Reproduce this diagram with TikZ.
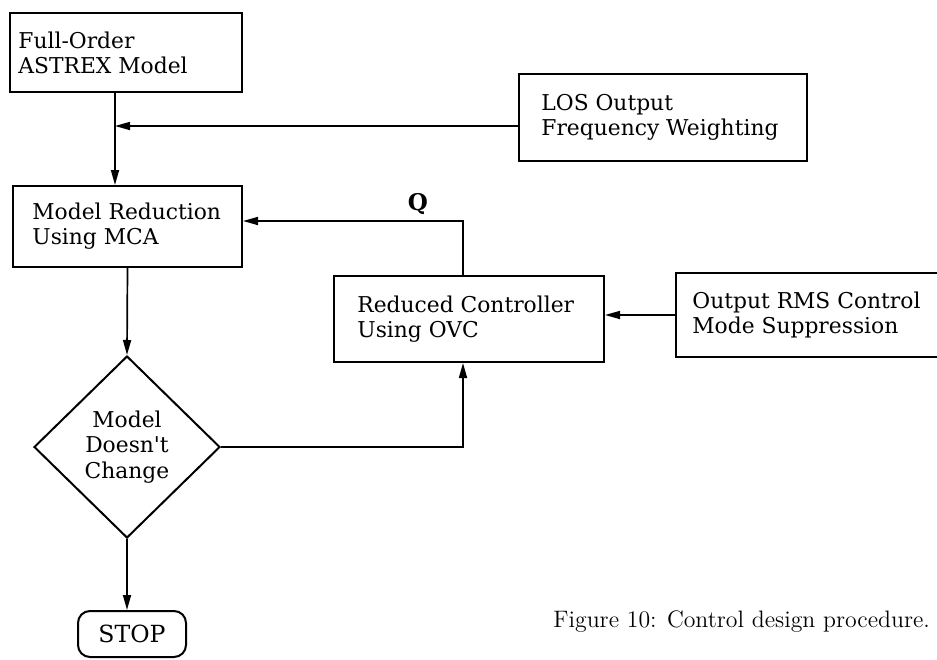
\documentclass[tikz,border=0pt]{standalone}
\usepackage{fontspec}
\newfontfamily\dvs{DejaVu Serif}
\usetikzlibrary{arrows.meta,shapes.geometric}
\begin{document}
\begin{tikzpicture}[x=0.5pt,y=-0.5pt,
  box/.style={draw, line width=1pt, anchor=north west, inner sep=0pt},
  txt/.style={anchor=west, align=left, inner sep=0pt, font=\dvs\fontsize{10.9}{12.5}\selectfont},
  arr/.style={line width=0.85pt, -{Triangle[length=7.5pt,width=4pt]}}]
\clip (0,0) rectangle (937,659);
\fill[white] (0,0) rectangle (937,659);
% boxes
\node[box, minimum width=116pt, minimum height=39.5pt] (A) at (9,12) {};
\node[txt] (tA) at ([xshift=4.5pt]A.west) {Full-Order\\ASTREX Model};
\node[box, minimum width=144pt, minimum height=43.5pt] (LOS) at (518,73) {};
\node[txt] (tLOS) at ([xshift=11.5pt]LOS.west) {LOS Output\\Frequency Weighting};
\node[box, minimum width=114.5pt, minimum height=40.5pt] (B) at (12,185) {};
\node[txt] (tB) at ([xshift=10pt]B.west) {Model Reduction\\Using MCA};
\node[box, minimum width=135pt, minimum height=43pt] (C) at (333,275) {};
\node[txt] (tC) at ([xshift=12pt]C.west) {Reduced Controller\\Using OVC};
\node[box, minimum width=137.5pt, minimum height=42pt] (D) at (675,272) {};
\node[txt] (tD) at ([xshift=8.5pt]D.west) {Output RMS Control\\Mode Suppression};
\node[draw, diamond, line width=1pt, minimum width=93pt, minimum height=91pt, inner sep=0pt,
      align=center, font=\dvs\fontsize{10.9}{12.7}\selectfont] (Dm) at (127,447) {Model\\Doesn't\\Change};
\node[draw, line width=1pt, rounded corners=6pt, minimum width=54pt, minimum height=23pt, inner sep=0pt,
      font=\dvs\fontsize{11.8}{13}\selectfont] (STOP) at (132,634) {STOP};
\node[font=\dvs\bfseries\fontsize{11.5}{13}\selectfont, inner sep=0pt] (Q) at (418,204) {Q};
% connectors
\coordinate (j1) at (115,126);
\coordinate (q) at (463,221);
\draw[arr] (A.south -| j1) -- (B.north -| j1);
\draw[arr] (LOS.west |- j1) -- (j1);
\draw[arr] (C.north -| q) -- (q) -- (B.east |- q);
\draw[arr] (B.south) -- (Dm.north);
\draw[arr] (Dm.east) -| (C.south -| q);
\draw[arr] (D.west) -- (C.east |- D.west);
\draw[arr] (Dm.south) -- (Dm.south |- STOP.north);
% caption
\node[anchor=base west, inner sep=0pt, font=\fontsize{11.9}{14}\selectfont] (cap) at (553,627) {Figure 10: Control design procedure.};
\end{tikzpicture}
\end{document}
